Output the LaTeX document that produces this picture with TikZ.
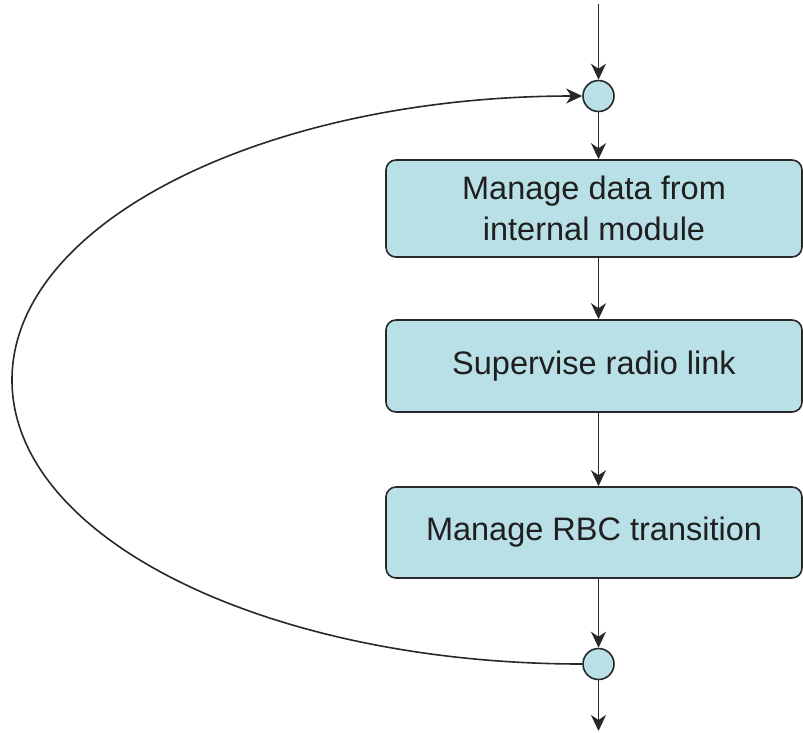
\documentclass[tikz,border=0pt]{standalone}
\usepackage{fontspec}
\setmainfont{Liberation Sans}
\usetikzlibrary{arrows.meta}
\definecolor{boxfill}{RGB}{184,224,230}
\definecolor{linec}{RGB}{40,40,40}
\begin{document}
\begin{tikzpicture}[x=1pt,y=-1pt,
  procbox/.style={draw=linec,line width=1.6pt,fill=boxfill,rounded corners=10pt,
    minimum width=416pt,align=center,font=\fontsize{32.5}{41}\selectfont,text=black!88},
  junc/.style={circle,draw=linec,line width=1.6pt,fill=boxfill,minimum size=31pt,inner sep=0pt},
  flow/.style={draw=linec,line width=1.6pt,-{Stealth[length=16pt,width=15pt,inset=5pt]}}]
\useasboundingbox (0,0) rectangle (803,732);
\node[junc] (j1) at (598.5,96) {};
\node[procbox,minimum height=97pt] (b1) at (594,208.5) {Manage data from\\internal module};
\node[procbox,minimum height=92pt] (b2) at (594,366) {Supervise radio link};
\node[procbox,minimum height=91pt] (b3) at (594,532.5) {Manage RBC transition};
\node[junc] (j2) at (598.5,664) {};
\coordinate (top) at (598.5,4);
\coordinate (bot) at (598.5,731);
\coordinate (far) at (12,380);
\draw[flow] (top) -- (j1);
\draw[flow] (j1) -- (j1 |- b1.north);
\draw[flow] (j1 |- b1.south) -- (j1 |- b2.north);
\draw[flow] (j1 |- b2.south) -- (j1 |- b3.north);
\draw[flow] (j1 |- b3.south) -- (j2);
\draw[flow] (j2) -- (bot);
\draw[flow] (j2.west) .. controls (270,664) and (12,540) .. (far)
  .. controls (12,220) and (270,96) .. (j1.west);
\end{tikzpicture}
\end{document}
